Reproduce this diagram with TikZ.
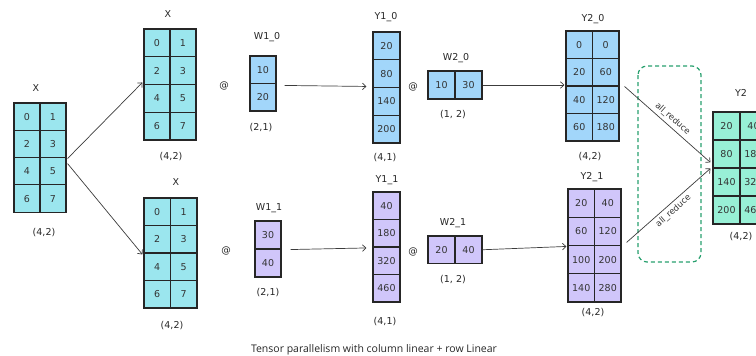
\documentclass[tikz,border=0pt]{standalone}
\usepackage{fontspec}
\setmainfont{DejaVu Sans}
\newfontfamily\captionfont{Open Sans}
\usetikzlibrary{arrows.meta}

\definecolor{xcyan}{RGB}{155,230,238}
\definecolor{wblue}{RGB}{162,214,250}
\definecolor{wpurple}{RGB}{208,198,250}
\definecolor{ygreen}{RGB}{152,240,214}
\definecolor{reducegreen}{RGB}{40,160,110}
\definecolor{inkgray}{RGB}{60,60,60}

% #1 name, #2 left, #3 top, #4 columns, #5 cell width, #6 cell height, #7 fill, #8 entries
\newcommand\tensorgrid[8]{%
  \foreach \v [count=\k from 0] in {#8} {%
    \pgfmathtruncatemacro\cellrow{floor(\k/#4)}%
    \pgfmathtruncatemacro\cellcol{mod(\k,#4)}%
    \node[cell,fill=#7,minimum width=#5pt,minimum height=#6pt]
      (#1-\cellrow-\cellcol) at ({#2+(\cellcol+0.5)*#5},{#3+(\cellrow+0.5)*#6}) {\v};
  }%
}

\begin{document}
\begin{tikzpicture}[x=1pt,y=-1pt,
  cell/.style={draw=black!85,line width=1.1pt,inner sep=0pt,
    font=\fontsize{9.5}{11}\selectfont,text=black!80},
  lbl/.style={inner sep=0pt,font=\fontsize{9.5}{11}\selectfont,text=black!85},
  conn/.style={draw=inkgray,line width=0.7pt,-{Straight Barb[length=3.5pt,width=6.5pt]}},
  reducelbl/.style={font=\fontsize{8.5}{10}\selectfont,text=black!80,sloped,inner sep=3pt}]
\useasboundingbox (0,0) rectangle (756,356);
\clip (0,0) rectangle (756,356);

% input and its two copies
\tensorgrid{XA}{14}{103}{2}{26}{27.3}{xcyan}{0,1,2,3,4,5,6,7}
\tensorgrid{XB}{144}{29}{2}{26}{27.75}{xcyan}{0,1,2,3,4,5,6,7}
\tensorgrid{XC}{144}{198}{2}{26.5}{27.5}{xcyan}{0,1,2,3,4,5,6,7}
% column-split weights
\tensorgrid{WA}{250}{56}{1}{26}{27.5}{wblue}{10,20}
\tensorgrid{WB}{255}{221}{1}{26}{28}{wpurple}{30,40}
% first-layer outputs
\tensorgrid{YA}{373}{32}{1}{27}{27.75}{wblue}{20,80,140,200}
\tensorgrid{YB}{373}{192}{1}{27}{27.5}{wpurple}{40,180,320,460}
% row-split weights
\tensorgrid{VA}{428}{71}{2}{27}{28}{wblue}{10,30}
\tensorgrid{VB}{428}{236}{2}{27}{27.5}{wpurple}{20,40}
% partial results
\tensorgrid{ZA}{566}{31}{2}{26.5}{27.5}{wblue}{0,0,20,60,40,120,60,180}
\tensorgrid{ZB}{568}{189}{2}{26.5}{28.25}{wpurple}{20,40,60,120,100,200,140,280}
% reduced result
\tensorgrid{Y}{713}{112}{2}{27}{28}{ygreen}{20,40,80,180,140,320,200,460}

% titles and shapes
\node[lbl] (XA-t) at (36,88) {X};
\node[lbl] (XA-s) at (44,233) {(4,2)};
\node[lbl] (XB-t) at (168,14) {X};
\node[lbl] (XB-s) at (171,157) {(4,2)};
\node[lbl] (XC-t) at (176,182) {X};
\node[lbl] (XC-s) at (172,326) {(4,2)};
\node[lbl] (WA-t) at (267,37) {W1\_0};
\node[lbl] (WA-s) at (261,128) {(2,1)};
\node[lbl] (WB-t) at (269,208) {W1\_1};
\node[lbl] (WB-s) at (268,293) {(2,1)};
\node[lbl] (YA-t) at (386,17) {Y1\_0};
\node[lbl] (YA-s) at (385,158) {(4,1)};
\node[lbl] (YB-t) at (387,180) {Y1\_1};
\node[lbl] (YB-s) at (385,322) {(4,1)};
\node[lbl] (VA-t) at (456,58) {W2\_0};
\node[lbl] (VA-s) at (453,115) {(1, 2)};
\node[lbl] (VB-t) at (453,223) {W2\_1};
\node[lbl] (VB-s) at (453,280) {(1, 2)};
\node[lbl] (ZA-t) at (593,19) {Y2\_0};
\node[lbl] (ZA-s) at (590,157) {(4,2)};
\node[lbl] (ZB-t) at (592,177) {Y2\_1};
\node[lbl] (ZB-s) at (593,313) {(4,2)};
\node[lbl] (Y-t) at (741,93) {Y2};
\node[lbl] (Y-s) at (741,237) {(4,2)};

% matmul operators
\node[lbl] (at1) at (224,86) {@};
\node[lbl] (at2) at (226,251) {@};
\node[lbl] (at3) at (413,87) {@};
\node[lbl] (at4) at (413,252) {@};

% all-reduce group
\draw[reducegreen,line width=1.2pt,dash pattern=on 4pt off 3pt,rounded corners=9pt]
  (638,66) rectangle (701,262);

% data flow
\draw[conn] ([shift={(1,1.5)}]XA-2-1.north east) -- ([shift={(-1,-1.5)}]XB-2-0.north west);
\draw[conn] ([shift={(1,6.5)}]XA-2-1.north east) -- ([shift={(-1,2)}]XC-2-0.north west);
\draw[conn] ([shift={(8,2.5)}]WA-1-0.north east) -- ([shift={(-6,-0.5)}]YA-2-0.north west);
\draw[conn] ([xshift=9pt]WB-0-0.south east) -- ([shift={(-6,1.5)}]YB-2-0.north west);
\draw[conn] (VA-0-1.east) -- ([xshift=-1pt]VA-0-1.east -| ZA-0-0.west);
\draw[conn] (VB-0-1.east) -- ([shift={(-1,1.5)}]ZB-2-0.north west);
\draw[conn] ([shift={(5,1)}]ZA-2-1.north east) -- node[reducelbl,above] {all\_reduce}
  ([shift={(-2,-5)}]Y-2-0.north west);
\draw[conn] ([shift={(5,-2.5)}]ZB-2-1.north east) -- node[reducelbl,below] {all\_reduce}
  ([shift={(-2,1)}]Y-2-0.north west);

\node[inner sep=0pt,font=\captionfont\fontsize{10.5}{12}\selectfont,text=black!85] (cap) at (374,350)
  {Tensor parallelism with column linear + row Linear};
\end{tikzpicture}
\end{document}
